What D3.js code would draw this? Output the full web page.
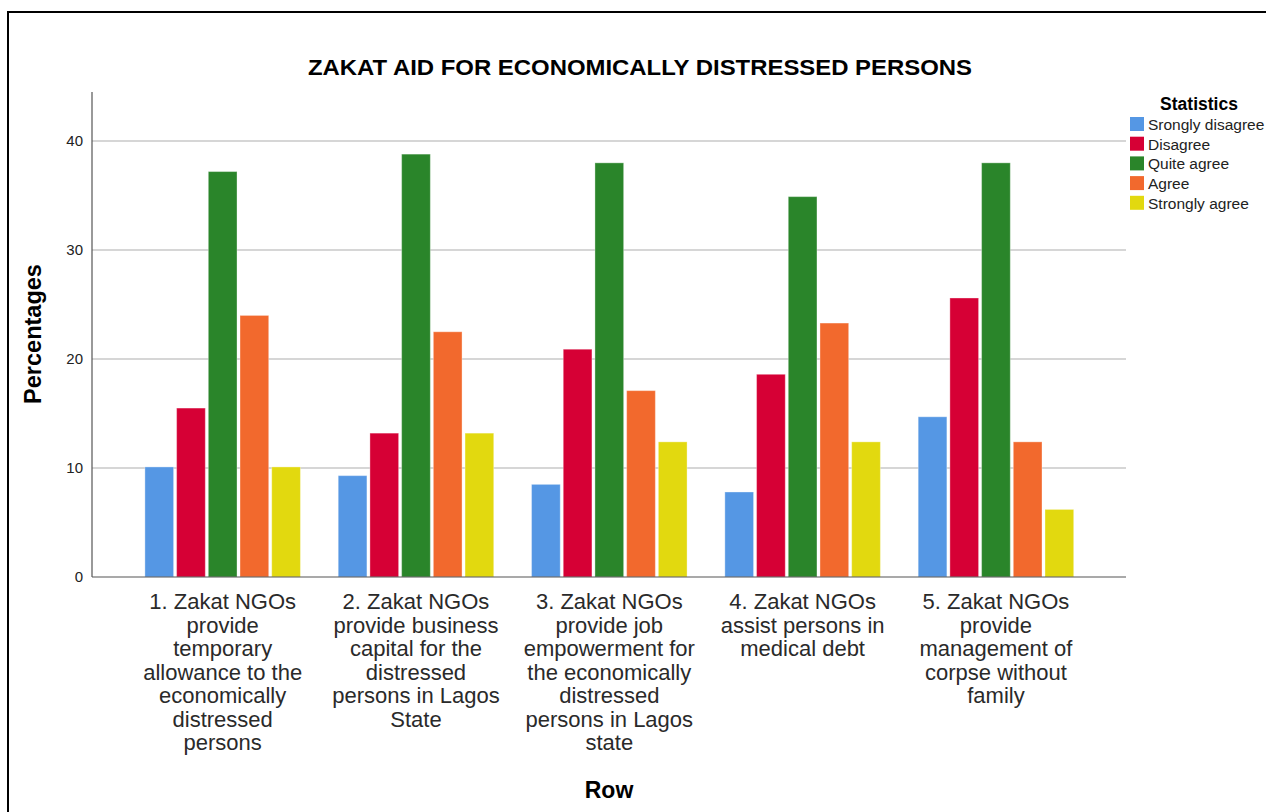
<!DOCTYPE html>
<html>
<head>
<meta charset="utf-8">
<script src="https://cdn.jsdelivr.net/npm/d3@7"></script>
<style>
  html, body { margin: 0; padding: 0; background: #fff; }
  svg { display: block; font-family: "Liberation Sans", Arial, sans-serif; }
</style>
</head>
<body>
<svg id="chart" width="1266" height="812"></svg>
<script>
const categories = [
  ["1. Zakat NGOs", "provide", "temporary", "allowance to the", "economically", "distressed", "persons"],
  ["2. Zakat NGOs", "provide business", "capital for the", "distressed", "persons in Lagos", "State"],
  ["3. Zakat NGOs", "provide job", "empowerment for", "the economically", "distressed", "persons in Lagos", "state"],
  ["4. Zakat NGOs", "assist persons in", "medical debt"],
  ["5. Zakat NGOs", "provide", "management of", "corpse without", "family"]
];
const seriesNames = ["Srongly disagree", "Disagree", "Quite agree", "Agree", "Strongly agree"];
const seriesColors = ["#5597e4", "#d60035", "#2a852a", "#f2692d", "#e2d90f"];
const stronglyDisagree = [10.1, 9.3, 8.5, 7.8, 14.7];
const disagree         = [15.5, 13.2, 20.9, 18.6, 25.6];
const quiteAgree       = [37.2, 38.8, 38.0, 34.9, 38.0];
const agree            = [24.0, 22.5, 17.1, 23.3, 12.4];
const stronglyAgree    = [10.1, 13.2, 12.4, 12.4, 6.2];
const yTicks = [0, 10, 20, 30, 40];
const title = "ZAKAT AID FOR ECONOMICALLY DISTRESSED PERSONS";
const xTitle = "Row";
const yTitle = "Percentages";
const legendTitle = "Statistics";

const seriesValues = [stronglyDisagree, disagree, quiteAgree, agree, stronglyAgree];
const catIds = categories.map((c, i) => "c" + i);

const svg = d3.select("#chart");

// outer frame
svg.append("rect").attr("x", 8).attr("y", 12).attr("width", 1300).attr("height", 900)
  .attr("fill", "none").attr("stroke", "#000").attr("stroke-width", 2);

const y = d3.scaleLinear().domain([0, 44.5]).range([577, 92]);
const x0 = d3.scaleBand().domain(catIds).range([126, 1092.6]).padding(0);
const x1 = d3.scaleBand().domain(seriesNames).range([0, x0.bandwidth()])
  .paddingInner(0.0946).paddingOuter(0.596);

// gridlines
svg.append("g").selectAll("line").data(yTicks.filter(t => t > 0)).join("line")
  .attr("x1", 92).attr("x2", 1126)
  .attr("y1", d => y(d)).attr("y2", d => y(d))
  .attr("stroke", "#c8c8c8").attr("stroke-width", 1.5);

// y axis
const yAxis = d3.axisLeft(y).tickValues(yTicks).tickSize(0).tickPadding(9).tickFormat(d3.format("d"));
const gy = svg.append("g").attr("transform", "translate(92,0)").call(yAxis);
gy.select(".domain").remove();
gy.selectAll("text").attr("font-size", 15).attr("fill", "#222")
  .attr("font-family", "'Liberation Sans', Arial, sans-serif");

// bars
const groups = svg.append("g").selectAll("g").data(catIds).join("g")
  .attr("transform", d => `translate(${x0(d)},0)`);
groups.selectAll("rect").data((d, i) => seriesNames.map((s, j) => ({s, j, v: seriesValues[j][i]})))
  .join("rect")
  .attr("x", d => x1(d.s))
  .attr("width", x1.bandwidth())
  .attr("y", d => y(d.v))
  .attr("height", d => y(0) - y(d.v))
  .attr("fill", d => seriesColors[d.j])
  .attr("stroke", "#ffffff").attr("stroke-opacity", 0.35).attr("stroke-width", 1);

// axis lines
svg.append("line").attr("x1", 92).attr("x2", 92).attr("y1", 92).attr("y2", 577)
  .attr("stroke", "#555").attr("stroke-width", 1.2);
svg.append("line").attr("x1", 92).attr("x2", 1126).attr("y1", 577).attr("y2", 577)
  .attr("stroke", "#555").attr("stroke-width", 1.2);

// x category labels
const xl = svg.append("g").selectAll("text").data(categories).join("text")
  .attr("x", (d, i) => x0(catIds[i]) + x0.bandwidth() / 2)
  .attr("y", 609)
  .attr("text-anchor", "middle")
  .attr("font-size", 22)
  .attr("fill", "#2a2a2a");
xl.selectAll("tspan").data(d => d).join("tspan")
  .attr("x", function() { return d3.select(this.parentNode).attr("x"); })
  .attr("dy", (d, i) => i === 0 ? 0 : 23.5)
  .text(d => d);

// title
svg.append("text").attr("x", 640).attr("y", 75).attr("text-anchor", "middle")
  .attr("font-size", 22.5).attr("font-weight", "bold").attr("fill", "#000")
  .attr("textLength", 664).attr("lengthAdjust", "spacingAndGlyphs")
  .text(title);

// axis titles
svg.append("text").attr("x", 609).attr("y", 798).attr("text-anchor", "middle")
  .attr("font-size", 23).attr("font-weight", "bold").attr("fill", "#000").text(xTitle);
svg.append("text").attr("transform", "translate(41,334) rotate(-90)").attr("text-anchor", "middle")
  .attr("font-size", 23.5).attr("font-weight", "bold").attr("fill", "#000").text(yTitle);

// legend
const lg = svg.append("g");
lg.append("text").attr("x", 1199).attr("y", 110).attr("text-anchor", "middle")
  .attr("font-size", 17.5).attr("font-weight", "bold").attr("fill", "#000").text(legendTitle);
const items = lg.selectAll("g.item").data(seriesNames).join("g").attr("class", "item")
  .attr("transform", (d, i) => `translate(1130,${117 + i * 19.7})`);
items.append("rect").attr("width", 14).attr("height", 14)
  .attr("fill", (d, i) => seriesColors[i]);
items.append("text").attr("x", 18).attr("y", 13).attr("font-size", 15.5).attr("fill", "#222")
  .text(d => d);
</script>
</body>
</html>
